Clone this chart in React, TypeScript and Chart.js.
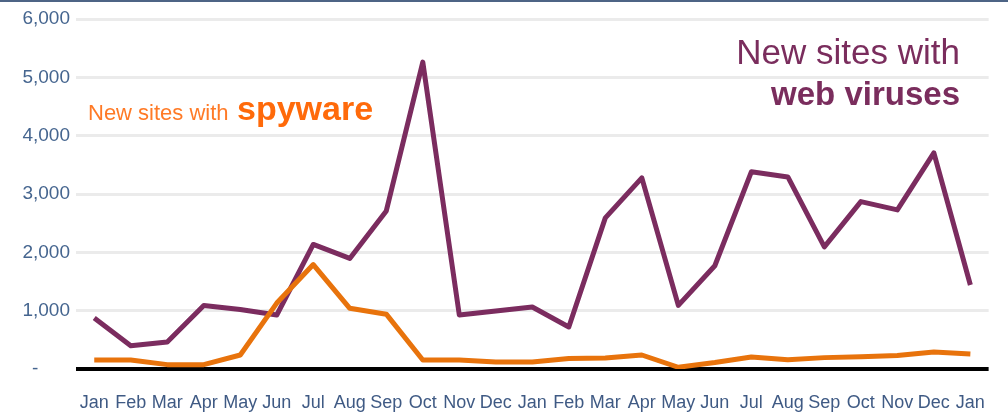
import React, { useEffect, useRef } from "react";
import { Chart, registerables } from "chart.js";

Chart.register(...registerables);

const categories = [
  "Jan", "Feb", "Mar", "Apr", "May", "Jun", "Jul", "Aug", "Sep", "Oct", "Nov", "Dec",
  "Jan", "Feb", "Mar", "Apr", "May", "Jun", "Jul", "Aug", "Sep", "Oct", "Nov", "Dec", "Jan",
];

const webViruses = [
  875, 400, 463, 1090, 1020, 926, 2135, 1895, 2710, 5260, 926, 995,
  1063, 720, 2590, 3276, 1090, 1770, 3380, 3293, 2093, 2870, 2727, 3705, 1440,
];

const spyware = [
  154, 154, 75, 75, 240, 1130, 1790, 1040, 940, 154, 154, 120,
  120, 180, 190, 240, 30, 110, 206, 160, 195, 210, 230, 290, 257,
];

const yTickValues = [0, 1000, 2000, 3000, 4000, 5000, 6000];

const PURPLE = "#7b2c5f";
const ORANGE = "#e8730c";
const FONT = "'Liberation Sans', Arial, sans-serif";

const decorPlugin = {
  id: "decor",
  beforeDraw(chart: any) {
    const { ctx, width } = chart;
    ctx.save();
    ctx.fillStyle = "#ffffff";
    ctx.fillRect(0, 0, width, chart.height);
    ctx.fillStyle = "#4d6485";
    ctx.fillRect(0, 0, width, 2);
    ctx.restore();
  },
  afterDraw(chart: any) {
    const { ctx } = chart;
    ctx.save();
    ctx.textBaseline = "alphabetic";
    // spyware label
    ctx.textAlign = "left";
    ctx.fillStyle = "#ff7a26";
    ctx.font = `22px ${FONT}`;
    ctx.fillText("New sites with", 88, 120);
    ctx.fillStyle = "#ff6a0a";
    ctx.font = `bold 34px ${FONT}`;
    ctx.fillText("spyware", 237, 120);
    // web viruses label
    ctx.textAlign = "right";
    ctx.fillStyle = "#7a2d5d";
    ctx.font = `35px ${FONT}`;
    ctx.fillText("New sites with", 960, 64);
    ctx.font = `bold 33px ${FONT}`;
    ctx.fillText("web viruses", 960, 105);
    ctx.restore();
  },
};

export default function App() {
  const ref = useRef<HTMLCanvasElement | null>(null);

  useEffect(() => {
    if (!ref.current) return;
    const chart = new Chart(ref.current, {
      type: "line",
      data: {
        labels: categories,
        datasets: [
          {
            label: "New sites with spyware",
            data: spyware,
            borderColor: ORANGE,
            borderWidth: 5,
            pointRadius: 0,
            tension: 0,
            borderJoinStyle: "round",
          },
          {
            label: "New sites with web viruses",
            data: webViruses,
            borderColor: PURPLE,
            borderWidth: 5,
            pointRadius: 0,
            tension: 0,
            borderJoinStyle: "round",
          },
        ],
      },
      options: {
        responsive: false,
        animation: false,
        layout: { padding: { top: 19, right: 6, left: 0, bottom: 0 } },
        plugins: {
          legend: { display: false },
          tooltip: { enabled: false },
        },
        scales: {
          x: {
            offset: true,
            grid: { display: false, drawTicks: false },
            border: { display: false },
            ticks: {
              color: "#3f5a84",
              font: { family: FONT, size: 18 },
              padding: 23,
              maxRotation: 0,
              autoSkip: false,
            },
            afterFit(scale: any) {
              scale.height = 45;
            },
          },
          y: {
            min: 0,
            max: 6000,
            afterBuildTicks(scale: any) {
              scale.ticks = yTickValues.map((v) => ({ value: v }));
            },
            grid: {
              drawTicks: false,
              color: (c: any) => (c.tick && c.tick.value === 0 ? "#000000" : "#ebebeb"),
              lineWidth: (c: any) => (c.tick && c.tick.value === 0 ? 4 : 3),
            },
            border: { display: false },
            ticks: {
              color: "#45658f",
              font: { family: FONT, size: 19 },
              padding: 6,
              callback: (v: any) =>
                Number(v) === 0 ? "-      " : Number(v).toLocaleString("en-US"),
            },
            afterFit(scale: any) {
              scale.width = 76;
            },
          },
        },
      },
      plugins: [decorPlugin],
    });
    return () => chart.destroy();
  }, []);

  return (
    <div style={{ position: "fixed", left: 0, top: 0, width: 1008, height: 414, background: "#fff" }}>
      <canvas ref={ref} width={1008} height={414} style={{ display: "block" }} />
    </div>
  );
}
